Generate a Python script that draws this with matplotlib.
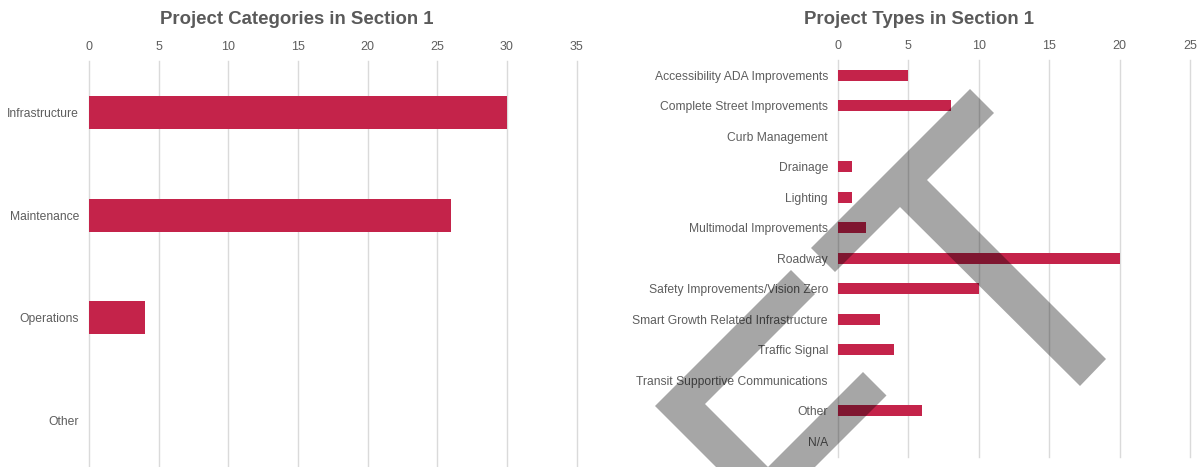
import matplotlib
matplotlib.use("Agg")
import matplotlib.pyplot as plt
from matplotlib.patches import Polygon

# ---- data ----
cat_labels = ["Infrastructure", "Maintenance", "Operations", "Other"]
cat_values = [30, 26, 4, 0]
cat_ticks = [0, 5, 10, 15, 20, 25, 30, 35]

type_labels = ["Accessibility ADA Improvements", "Complete Street Improvements",
               "Curb Management", "Drainage", "Lighting", "Multimodal Improvements",
               "Roadway", "Safety Improvements/Vision Zero",
               "Smart Growth Related Infrastructure", "Traffic Signal",
               "Transit Supportive Communications", "Other", "N/A"]
type_values = [5, 8, 0, 1, 1, 2, 20, 10, 3, 4, 0, 6, 0]
type_ticks = [0, 5, 10, 15, 20, 25]

title_left = "Project Categories in Section 1"
title_right = "Project Types in Section 1"

# ---- style ----
plt.rcParams['font.family'] = ['Liberation Sans', 'DejaVu Sans']
BAR = '#C4234A'
GRID = '#DADADA'
TXT = '#5E5E5E'
TITLE = '#5A5A5A'

W, H = 1199, 467
fig = plt.figure(figsize=(W / 100, H / 100), dpi=100)


def px_axes(left, top, right, bottom):
    return fig.add_axes([left / W, (H - bottom) / H, (right - left) / W, (bottom - top) / H])


def style(ax, labels, values, ticks, bar_h):
    y = list(range(len(labels)))
    ax.barh(y, values, height=bar_h, color=BAR, zorder=2)
    ax.set_ylim(len(labels) - 0.5, -0.5)
    ax.set_xlim(ticks[0], ticks[-1])
    ax.set_xticks(ticks)
    ax.set_yticks(y)
    ax.set_yticklabels(labels)
    ax.xaxis.tick_top()
    ax.tick_params(axis='x', length=0, pad=5.5, labelsize=9, labelcolor=TXT)
    ax.tick_params(axis='y', length=0, pad=7.2, labelsize=8.75, labelcolor=TXT)
    for s in ax.spines.values():
        s.set_visible(False)
    ax.grid(axis='x', color=GRID, linewidth=1.0, zorder=0)
    ax.set_axisbelow(True)
    for gl in ax.xaxis.get_gridlines():
        gl.set_clip_on(False)


axL = px_axes(89, 61, 576.6, 472)
style(axL, cat_labels, cat_values, cat_ticks, 0.32)

axR = px_axes(838, 60, 1190, 456.5)
style(axR, type_labels, type_values, type_ticks, 0.35)

fig.text(297 / W, 1 - 20 / H, title_left, ha='center', va='center',
         fontsize=13.4, fontweight='bold', color=TITLE)
fig.text(918.5 / W, 1 - 20 / H, title_right, ha='center', va='center',
         fontsize=13.4, fontweight='bold', color=TITLE)

# ---- translucent gray overlay shape present in the reference ----
shape_a = [(970, 89), (994, 113), (927, 180), (1106, 359), (1080, 386),
           (900, 207), (835, 272), (811, 248)]
shape_b = [(791, 270), (815, 294), (705, 404), (768, 467), (863, 372),
           (886.5, 395.5), (765.5, 516.5), (655, 406)]
for pts in (shape_a, shape_b):
    poly = Polygon([(x / W, 1 - y / H) for x, y in pts], closed=True,
                   transform=fig.transFigure, facecolor='black', alpha=0.35,
                   edgecolor='none', zorder=10)
    fig.add_artist(poly)

fig.savefig("out.png", dpi=100, facecolor='white')
